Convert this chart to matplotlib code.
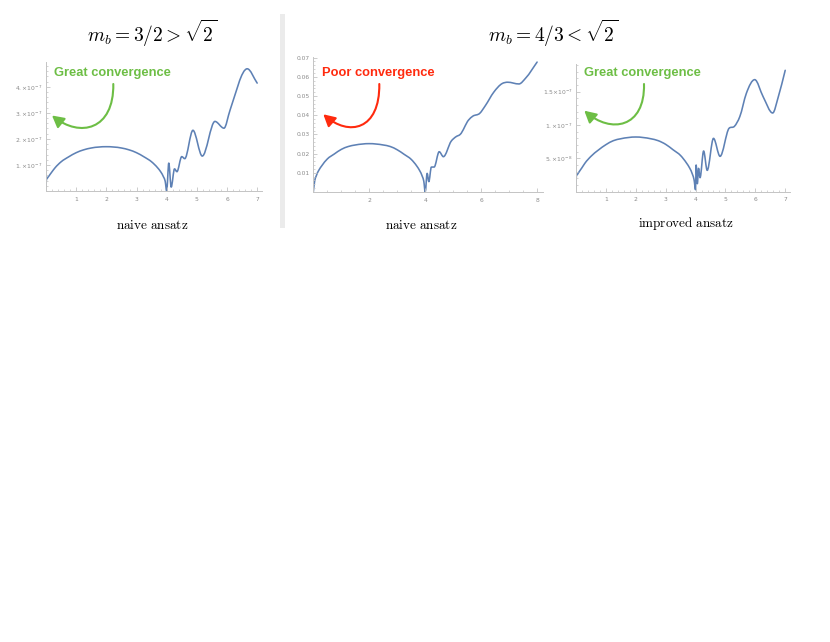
import numpy as np
import matplotlib
matplotlib.use("Agg")
import matplotlib.pyplot as plt
from matplotlib.path import Path
from matplotlib.patches import PathPatch, FancyArrowPatch, Rectangle
from matplotlib.ticker import MultipleLocator, FixedLocator

# ---- data ----
# panel 1: m_b = 3/2, naive ansatz (y in units of 1e-7)
p1_x = [0.0, 0.01, 0.05, 0.1, 0.2, 0.3, 0.5, 0.75, 1.0, 1.25, 1.5, 2.0, 2.5, 2.75, 3.0,
        3.25, 3.5, 3.7, 3.8, 3.9, 3.95, 4.0, 4.07, 4.15, 4.26, 4.34, 4.5, 4.6, 4.87,
        5.18, 5.6, 5.9, 6.1, 6.67, 7.0]
p1_y = [0.0, 0.4, 0.5, 0.58, 0.74, 0.89, 1.12, 1.31, 1.47, 1.58, 1.65, 1.70, 1.65,
        1.58, 1.47, 1.31, 1.12, 0.89, 0.74, 0.53, 0.38, 0.0, 1.07, 0.15, 0.85, 0.74,
        1.32, 1.24, 2.33, 1.34, 2.67, 2.41, 3.1, 4.69, 4.14]

# panel 2: m_b = 4/3, naive ansatz (y in units of 0.01)
p2_x = [0.0, 0.05, 0.1, 0.2, 0.3, 0.5, 0.75, 1.0, 1.25, 1.5, 2.0, 2.5, 2.75, 3.0, 3.25,
        3.5, 3.7, 3.8, 3.9, 3.95, 4.0, 4.07, 4.13, 4.22, 4.32, 4.5, 4.65, 4.93, 5.1,
        5.25, 5.55, 5.7, 5.95, 6.15, 6.45, 6.75, 6.95, 7.35, 7.6, 8.0]
p2_y = [0.0, 0.58, 0.82, 1.14, 1.36, 1.72, 1.98, 2.22, 2.37, 2.45, 2.52, 2.45, 2.37,
        2.2, 1.96, 1.7, 1.35, 1.12, 0.8, 0.56, 0.0, 0.97, 0.54, 1.3, 1.3, 2.1, 1.84,
        2.65, 2.88, 3.0, 3.75, 3.95, 4.1, 4.5, 5.2, 5.65, 5.72, 5.63, 5.95, 6.77]

# panel 3: m_b = 4/3, improved ansatz (y in units of 1e-8)
p3_x = [0.0, 0.01, 0.05, 0.1, 0.2, 0.3, 0.5, 0.75, 1.0, 1.25, 1.5, 2.0, 2.5, 2.75, 3.0,
        3.25, 3.5, 3.7, 3.8, 3.9, 3.95, 4.0, 4.02, 4.06, 4.1, 4.15, 4.27, 4.39, 4.6,
        4.82, 5.12, 5.3, 5.48, 5.7, 5.98, 6.26, 6.58, 6.77, 7.0]
p3_y = [0.0, 2.3, 2.6, 2.95, 3.6, 4.28, 5.3, 6.25, 7.05, 7.65, 7.94, 8.2, 7.94, 7.65,
        7.1, 6.28, 5.42, 4.28, 3.57, 2.56, 1.8, 0.3, 4.0, 1.2, 3.5, 2.1, 6.1, 3.2, 8.0,
        5.3, 9.5, 9.8, 11.25, 14.75, 16.8, 14.25, 11.8, 14.25, 18.2]

titles = [r"$m_b = 3/2 > \sqrt{2}$", r"$m_b = 4/3 < \sqrt{2}$"]
captions = ["naive ansatz", "naive ansatz", "improved ansatz"]
notes = ["Great convergence", "Poor convergence", "Great convergence"]

W, H = 830, 642
BLUE = "#5E81B5"
GREEN = "#6DBE45"
RED = "#FF2A0E"
SPINE = "#c4c4c4"
TICKTXT = "#8a8a8a"


def fx(x, y):
    """pixel (from top-left) -> figure fraction"""
    return (x / W, 1 - y / H)


def smooth_path(x, y):
    """smooth cubic through the points (flat at local extrema), as bezier segments"""
    x = np.asarray(x, float)
    y = np.asarray(y, float)
    h = np.diff(x)
    d = np.diff(y) / h
    m = np.zeros_like(y)
    m[0], m[-1] = d[0], d[-1]
    for i in range(1, len(y) - 1):
        if d[i - 1] * d[i] <= 0:
            m[i] = 0.0
        else:
            g = (h[i] * d[i - 1] + h[i - 1] * d[i]) / (h[i - 1] + h[i])
            lim = 3 * min(abs(d[i - 1]), abs(d[i]))
            m[i] = np.sign(g) * min(abs(g), lim)
    verts = [(x[0], y[0])]
    codes = [Path.MOVETO]
    for i in range(len(x) - 1):
        verts += [(x[i] + h[i] / 3, y[i] + m[i] * h[i] / 3),
                  (x[i + 1] - h[i] / 3, y[i + 1] - m[i + 1] * h[i] / 3),
                  (x[i + 1], y[i + 1])]
        codes += [Path.CURVE4] * 3
    return Path(verts, codes)


def style_axes(ax, xlim, ylim, xmaj, xmin, ymin, ylabels):
    ax.set_xlim(*xlim)
    ax.set_ylim(*ylim)
    for s in ("top", "right"):
        ax.spines[s].set_visible(False)
    for s in ("left", "bottom"):
        ax.spines[s].set_color(SPINE)
        ax.spines[s].set_linewidth(0.7)
    ax.xaxis.set_minor_locator(MultipleLocator(xmin))
    ax.yaxis.set_major_locator(FixedLocator([v for v, _ in ylabels]))
    ax.yaxis.set_minor_locator(MultipleLocator(ymin))
    ax.set_yticklabels([lab for _, lab in ylabels])
    xt = [t for t in np.arange(xmaj, xlim[1] + 1e-9, xmaj)]
    ax.set_xticks([0] + xt)
    ax.set_xticklabels([""] + [f"{t:g}" for t in xt])
    ax.tick_params(which="major", direction="in", length=3, width=0.6, color=SPINE,
                   labelsize=4.3, labelcolor=TICKTXT)
    ax.tick_params(which="minor", direction="in", length=1.6, width=0.5, color=SPINE)
    ax.tick_params(axis="x", pad=4)
    ax.tick_params(axis="y", pad=2.5)
    ax.patch.set_alpha(0)


fig = plt.figure(figsize=(8.3, 6.42), dpi=100)

# separator bar
fig.add_artist(Rectangle(fx(280, 228), 5 / W, 214 / H, transform=fig.transFigure,
                         facecolor="#ebebeb", edgecolor="none"))

# axes positions in pixels: left, top, right, bottom
boxes = [(46, 62, 261.7, 191), (313.3, 56.7, 542.7, 192), (576, 64.3, 790, 191.7)]
axes = []
for (l, t, r, b) in boxes:
    x0, y0 = fx(l, b)
    axes.append(fig.add_axes([x0, y0, (r - l) / W, (b - t) / H]))

series = [(p1_x, np.array(p1_y) * 1e-7), (p2_x, np.array(p2_y) * 0.01),
          (p3_x, np.array(p3_y) * 1e-8)]
for ax, (xs, ys) in zip(axes, series):
    ax.add_patch(PathPatch(smooth_path(xs, ys), facecolor="none", edgecolor=BLUE,
                           lw=1.15, capstyle="round", joinstyle="round"))

style_axes(axes[0], (0, 7.15), (0, 4.95e-7), 1, 0.2, 0.2e-7,
           [(k * 1e-7, rf"${k}.{{\times}}10^{{-7}}$") for k in (1, 2, 3, 4)])
style_axes(axes[1], (0, 8.2), (0, 0.0705), 2, 0.5, 0.002,
           [(k * 0.01, f"0.0{k}") for k in range(1, 8)])
style_axes(axes[2], (0, 7.16), (0, 1.91e-7), 1, 0.2, 1e-8,
           [(5e-8, r"$5.{\times}10^{-8}$"), (1e-7, r"$1.{\times}10^{-7}$"),
            (1.5e-7, r"$1.5{\times}10^{-7}$")])

# titles and captions
fig.text(*fx(152, 33), titles[0], ha="center", va="center", fontsize=14,
         math_fontfamily="cm")
fig.text(*fx(553.5, 33), titles[1], ha="center", va="center", fontsize=14,
         math_fontfamily="cm")
for (cx, cy), cap in zip([(152.5, 226), (421, 226), (686, 223)], captions):
    fig.text(*fx(cx, cy), r"$\mathrm{" + cap.replace(" ", r"\ ") + "}$", ha="center",
             va="center", fontsize=9.5, math_fontfamily="cm")

# annotations
note_pos = [(54, 73), (321.7, 72.7), (584.3, 72.7)]
note_col = [GREEN, RED, GREEN]
for (nx, ny), txt, col in zip(note_pos, notes, note_col):
    fig.text(*fx(nx, ny), txt, ha="left", va="center", fontsize=9.3,
             fontweight="bold", color=col, family="Liberation Sans")

arrows = [
    [(113.3, 84), (114, 130), (80, 138), (52, 115.5)],
    [(379.3, 84), (380, 130), (349, 137), (323.3, 114.3)],
    [(644, 84), (645, 128), (611, 134), (584.3, 110.7)],
]
for pts, col in zip(arrows, note_col):
    path = Path([fx(*p) for p in pts], [Path.MOVETO, Path.CURVE4, Path.CURVE4, Path.CURVE4])
    arr = FancyArrowPatch(path=path, arrowstyle="-|>,head_length=0.7,head_width=0.38",
                          mutation_scale=10, lw=1.5, color=col,
                          transform=fig.transFigure, shrinkA=0, shrinkB=0)
    fig.add_artist(arr)

fig.savefig("out.png", dpi=100)
